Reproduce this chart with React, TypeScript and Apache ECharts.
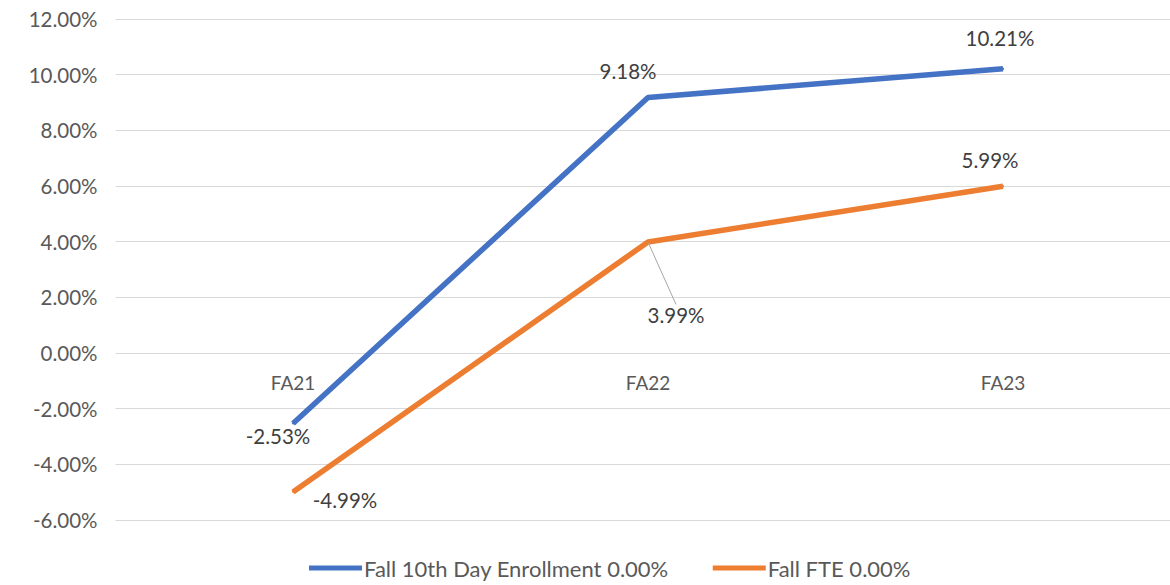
import React, { useEffect, useRef } from "react";
import * as echarts from "echarts";

const categories = ["FA21", "FA22", "FA23"];
const enrollment = [-2.53, 9.18, 10.21];
const fte = [-4.99, 3.99, 5.99];
const seriesNames = ["Fall 10th Day Enrollment 0.00%", "Fall FTE 0.00%"];
const enrollOffsets = [[-15, 13], [-20, -26], [-3, -31]];
const fteOffsets = [[52, 8], [28, 73], [-13, -26]];

const FONT = "Lato, 'Open Sans', sans-serif";

export default function App() {
  const ref = useRef<HTMLDivElement>(null);
  useEffect(() => {
    if (!ref.current) return;
    const chart = echarts.init(ref.current, undefined, { renderer: "svg" });
    const offsets = [enrollOffsets, fteOffsets];
    chart.setOption({
      animation: false,
      backgroundColor: "#ffffff",
      grid: { left: 115.5, right: 9.5, top: 19, height: 501 },
      legend: {
        bottom: 1,
        left: 304,
        itemWidth: 53,
        itemHeight: 5,
        itemGap: 44,
        icon: "rect",
        textStyle: { fontFamily: FONT, fontSize: 22, color: "#595959", padding: [0, 0, 0, -3] },
        data: seriesNames,
      },
      xAxis: {
        type: "category",
        data: categories,
        offset: -167,
        axisLine: { show: false, onZero: false },
        axisTick: { show: false },
        axisLabel: { color: "#595959", fontFamily: FONT, fontSize: 19, margin: 20 },
      },
      yAxis: {
        type: "value",
        min: -6,
        max: 12,
        interval: 2,
        axisLine: { show: false },
        axisTick: { show: false },
        splitLine: { lineStyle: { color: "#d9d9d9" } },
        axisLabel: {
          color: "#595959",
          fontFamily: FONT,
          fontSize: 20.5,
          margin: 18,
          formatter: (v: number) => v.toFixed(2) + "%",
        },
      },
      series: [
        {
          name: seriesNames[0],
          type: "line",
          data: enrollment,
          symbol: "circle",
          symbolSize: 2,
          lineStyle: { width: 5.5, color: "#4472C4" },
          itemStyle: { color: "#4472C4" },
          label: {
            show: true,
            position: "inside",
            color: "#404040",
            fontFamily: FONT,
            fontSize: 20.5,
            formatter: (p: any) => p.value.toFixed(2) + "%",
          },
        },
        {
          name: seriesNames[1],
          type: "line",
          data: fte.map((v, i) => (i === 1 ? { value: v, labelLine: { show: true } } : v)),
          symbol: "circle",
          symbolSize: 2,
          lineStyle: { width: 5.5, color: "#ED7D31" },
          itemStyle: { color: "#ED7D31" },
          labelLine: { show: false, lineStyle: { color: "#a6a6a6", width: 1 } },
          label: {
            show: true,
            position: "inside",
            color: "#404040",
            fontFamily: FONT,
            fontSize: 20.5,
            formatter: (p: any) => p.value.toFixed(2) + "%",
          },
        },
      ],
      labelLayout: (params: any) => {
        const o = offsets[params.seriesIndex][params.dataIndex];
        return { dx: o[0], dy: o[1] };
      },
    });
    return () => chart.dispose();
  }, []);
  return (
    <div
      ref={ref}
      style={{ position: "fixed", left: 0, top: 0, width: 1190, height: 585 }}
    />
  );
}
